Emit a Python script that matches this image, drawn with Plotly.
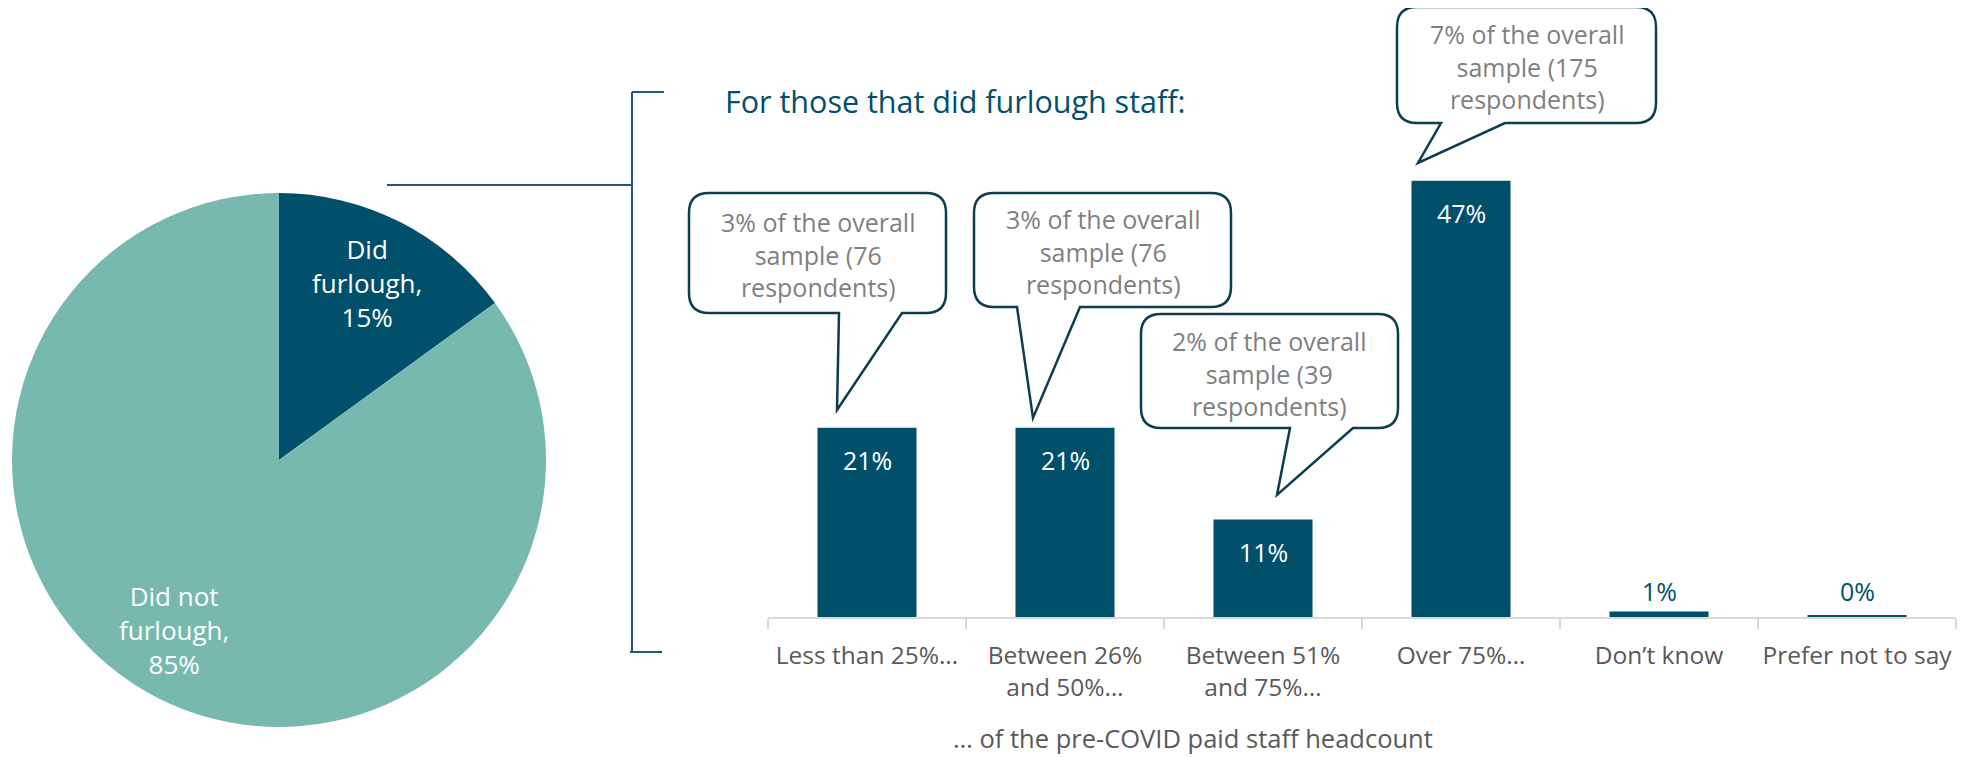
import plotly.graph_objects as go

W, H = 1975, 757
OFF = 8  # default page body margin

# ---- data ----
pie_labels = ["Did furlough", "Did not furlough"]
pie_values = [15, 85]
pie_text = ["Did<br>furlough,<br>15%", "Did not<br>furlough,<br>85%"]

categories = ["Less than 25%", "Between 26% and 50%", "Between 51% and 75%",
              "Over 75%", "Don't know", "Prefer not to say"]
tick_labels = ["Less than 25%…", "Between 26%<br>and 50%…", "Between 51%<br>and 75%…",
               "Over 75%…", "Don’t know", "Prefer not to say"]
bar_values = [20.4, 20.4, 10.5, 47.0, 0.6, 0.2]
bar_labels = ["21%", "21%", "11%", "47%", "1%", "0%"]
callout_texts = ["3% of the overall<br>sample (76<br>respondents)",
                 "3% of the overall<br>sample (76<br>respondents)",
                 "2% of the overall<br>sample (39<br>respondents)",
                 "7% of the overall<br>sample (175<br>respondents)"]

DARK = "#004F6B"
TEAL = "#77B9AE"
GREY = "#595959"
CALLGREY = "#7F7F7F"
FONT = "Open Sans"


def px(x):
    return (x - OFF) / W


def py(y):
    return 1 - (y - OFF) / H


fig = go.Figure()

fig.add_trace(go.Pie(
    labels=pie_labels, values=pie_values, sort=False, direction="clockwise",
    rotation=0, marker=dict(colors=[DARK, TEAL], line=dict(width=0)),
    textinfo="none", hoverinfo="label+percent", showlegend=False,
    domain=dict(x=[px(12), px(546)], y=[py(727), py(193)]),
))

fig.add_trace(go.Bar(
    x=categories, y=bar_values, marker=dict(color=DARK, line=dict(width=0)),
    showlegend=False, hoverinfo="x+y",
))

annotations = []
# pie labels
pie_label_pos = [(367, 283), (174, 630)]
for t, (x, y) in zip(pie_text, pie_label_pos):
    annotations.append(dict(text=t, x=px(x), y=py(y), xref="paper", yref="paper",
                            showarrow=False, font=dict(color="white", size=26, family=FONT),
                            xanchor="center", yanchor="middle"))

# bar labels
for c, v, lab in zip(categories, bar_values, bar_labels):
    if v > 5:
        annotations.append(dict(text=lab, x=c, y=v, xref="x", yref="y", showarrow=False,
                                yanchor="middle", yshift=-32,
                                font=dict(color="white", size=25, family=FONT)))
    else:
        annotations.append(dict(text=lab, x=c, y=0, xref="x", yref="y", showarrow=False,
                                yanchor="middle", yshift=26,
                                font=dict(color=DARK, size=25, family=FONT)))

# title
annotations.append(dict(text="For those that did furlough staff:", x=px(723), y=py(101),
                        xref="paper", yref="paper", showarrow=False, xanchor="left",
                        yanchor="middle", font=dict(color=DARK, size=30.5, family=FONT)))
# axis title
annotations.append(dict(text="… of the pre-COVID paid staff headcount", x=px(1193), y=py(738),
                        xref="paper", yref="paper", showarrow=False, xanchor="center",
                        yanchor="middle", font=dict(color=GREY, size=25.5, family=FONT)))

shapes = []
# bracket
LINE = dict(color="#1F5A73", width=2)
shapes.append(dict(type="line", xref="paper", yref="paper", x0=px(632), x1=px(632),
                   y0=py(92), y1=py(652), line=LINE))
shapes.append(dict(type="line", xref="paper", yref="paper", x0=px(632), x1=px(664),
                   y0=py(92), y1=py(92), line=LINE))
shapes.append(dict(type="line", xref="paper", yref="paper", x0=px(630), x1=px(662),
                   y0=py(652), y1=py(652), line=LINE))
shapes.append(dict(type="line", xref="paper", yref="paper", x0=px(387), x1=px(632),
                   y0=py(185), y1=py(185), line=LINE))

# callouts: (left, top, right, bottom, tail x1, tail x2, tip x, tip y, text cx, text cy)
callouts = [
    (689, 193, 946, 313, 839, 902, 837, 410, 818, 255),
    (974, 193, 1231, 307, 1017, 1080, 1033, 418, 1103, 252),
    (1141, 314, 1398, 428, 1290, 1353, 1277, 495, 1269, 373),
    (1397, 7, 1656, 123, 1441, 1505, 1418, 163, 1527, 67),
]
R = 20
for (l, t, r, b, x1, x2, tx, ty, cx, cy), txt in zip(callouts, callout_texts):
    pts = (f"M {px(l+R)},{py(t)} L {px(r-R)},{py(t)} Q {px(r)},{py(t)} {px(r)},{py(t+R)} "
           f"L {px(r)},{py(b-R)} Q {px(r)},{py(b)} {px(r-R)},{py(b)} "
           f"L {px(x2)},{py(b)} L {px(tx)},{py(ty)} L {px(x1)},{py(b)} "
           f"L {px(l+R)},{py(b)} Q {px(l)},{py(b)} {px(l)},{py(b-R)} "
           f"L {px(l)},{py(t+R)} Q {px(l)},{py(t)} {px(l+R)},{py(t)} Z")
    shapes.append(dict(type="path", path=pts, xref="paper", yref="paper",
                       fillcolor="white", line=dict(color="#0E3D50", width=2.5), layer="above"))
    annotations.append(dict(text=txt, x=px(cx), y=py(cy), xref="paper", yref="paper",
                            showarrow=False, xanchor="center", yanchor="middle",
                            font=dict(color=CALLGREY, size=25, family=FONT)))

fig.update_layout(
    width=W, height=H, margin=dict(l=0, r=0, t=0, b=0),
    paper_bgcolor="white", plot_bgcolor="white",
    font=dict(family=FONT, color=GREY),
    bargap=0.5,
    xaxis=dict(domain=[px(768), px(1956)], type="category", tickmode="array",
               tickvals=categories, ticktext=tick_labels, tickson="boundaries",
               ticks="outside", ticklen=10, tickwidth=2, tickcolor="#D9D9D9",
               showline=True, linecolor="#D9D9D9", linewidth=2, showgrid=False,
               zeroline=False, tickfont=dict(size=24.5, color=GREY, family=FONT),
               tickangle=0, ticklabelstandoff=16, fixedrange=True),
    yaxis=dict(domain=[py(617), py(617 - 50 * 9.28)], range=[0, 50], visible=False,
               showgrid=False, zeroline=False, fixedrange=True),
    annotations=annotations, shapes=shapes,
)

fig.write_html("out.html")
